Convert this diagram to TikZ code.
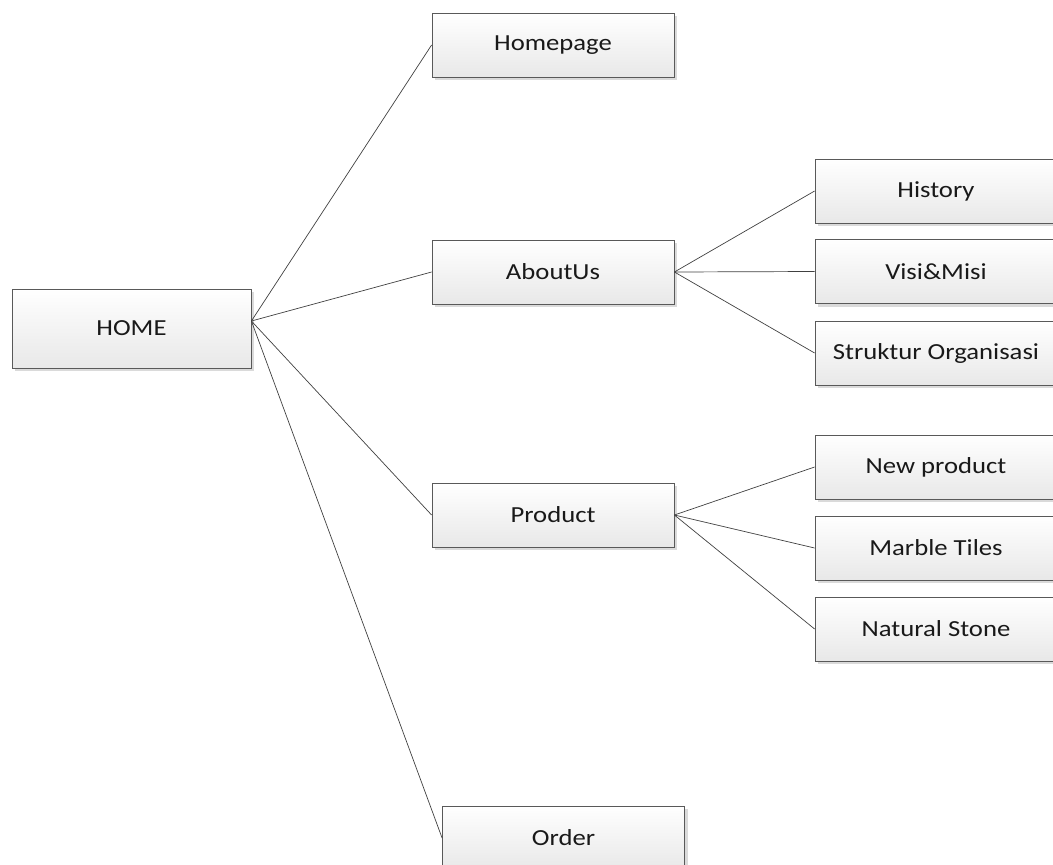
\documentclass[tikz,border=0pt]{standalone}
\usepackage{fontspec}
\setmainfont{Carlito}[FakeStretch=1.16]
\usetikzlibrary{shadows}

\tikzset{
  box/.style={draw=black!65, line width=0.8pt, top color=white, bottom color=black!9,
    minimum width=242pt, minimum height=64pt, inner sep=0pt,
    font=\fontsize{23}{27}\selectfont, text=black!90,
    drop shadow={shadow xshift=3pt, shadow yshift=-3pt, fill=black!18, opacity=0.8}},
  link/.style={draw=black!75, line width=0.7pt}
}

\begin{document}
\begin{tikzpicture}[x=1pt,y=-1pt]
\clip (0,0) rectangle (1053,865);
% boxes
\node [box,minimum width=239pt,minimum height=79pt] (home) at (131.5,328.5) {HOME};
\node [box] (homepage) at (553,45) {Homepage};
\node [box] (aboutus) at (553,272) {AboutUs};
\node [box] (product) at (553,515) {Product};
\node [box] (order) at (563.5,838) {Order};
\node [box] (history) at (936,191) {History};
\node [box] (visimisi) at (936,271.5) {Visi\&Misi};
\node [box] (struktur) at (936,353) {Struktur Organisasi};
\node [box] (newproduct) at (936,467) {New product};
\node [box] (marble) at (936,548) {Marble Tiles};
\node [box] (natural) at (936,629) {Natural Stone};
% links
\coordinate (homeout) at ([yshift=7.5pt]home.east);
\foreach \n in {homepage,aboutus,product,order}
  \draw [link] (homeout) -- (\n.west);
\foreach \n in {history,visimisi,struktur}
  \draw [link] (aboutus.east) -- (\n.west);
\foreach \n in {newproduct,marble,natural}
  \draw [link] (product.east) -- (\n.west);
\end{tikzpicture}
\end{document}
